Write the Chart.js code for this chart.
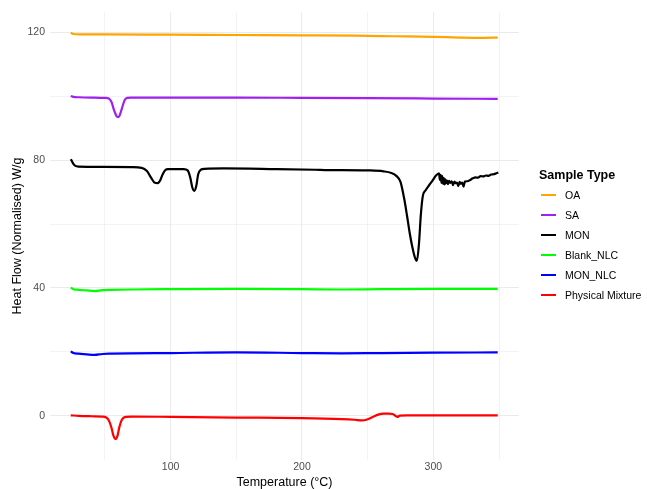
<!DOCTYPE html>
<html>
<head>
<meta charset="utf-8">
<script src="https://cdn.jsdelivr.net/npm/chart.js@4/dist/chart.umd.min.js"></script>
<style>
  body { margin: 0; background: #fff; }
  #wrap { position: relative; width: 647px; height: 489px; font-family: "Liberation Sans", Arial, sans-serif; }
  #legend { position: absolute; left: 539px; top: 166px; }
  #legend .title { font-weight: bold; font-size: 12.5px; height: 19px; line-height: 19px; }
  #legend .item { height: 20px; display: flex; align-items: center; font-size: 10.5px; }
  #legend .key { width: 15px; height: 2.2px; margin-left: 2px; margin-right: 9px; }
</style>
</head>
<body>
<div id="wrap">
  <canvas id="dsc" width="647" height="489"></canvas>
  <div id="legend"></div>
</div>
<script>
// DSC traces, temperature in °C, heat flow normalised and offset (W/g)
const seriesNames = ['OA', 'SA', 'MON', 'Blank_NLC', 'MON_NLC', 'Physical Mixture'];
const seriesColors = ['#FFA500', '#A020F0', '#000000', '#00FF00', '#0000FF', '#FF0000'];

const tOA = [24, 26, 30, 50, 100, 150, 200, 240, 270, 300, 320, 335, 349];
const hfOA = [119.9, 119.5, 119.4, 119.4, 119.3, 119.2, 119.1, 119.0, 118.8, 118.6, 118.4, 118.3, 118.4];

const tSA = [24, 26, 30, 40, 50, 53, 55, 57, 59, 60, 61, 63, 65, 67, 70, 100, 150, 200, 250, 300, 349];
const hfSA = [100.1, 99.8, 99.7, 99.6, 99.5, 99.3, 98.2, 95.6, 93.7, 93.5, 93.8, 96.3, 98.8, 99.5, 99.6, 99.6, 99.6, 99.5, 99.4, 99.3, 99.2];

const tMON = [24, 25, 26, 27.5, 30, 50, 70, 78, 82, 85, 88, 90, 92, 94, 96, 98, 100, 110, 113, 115, 116.5, 118, 119.5, 121, 123, 126,
  140, 180, 210, 220, 230, 250, 262, 268, 272, 275, 278, 280, 282, 284, 286, 287.5, 289, 290.5, 292, 294, 297, 300, 302, 304.3,
  305, 305.6, 306.2, 306.8, 307.4, 308, 308.6, 309.2, 309.8, 310.5, 311.2, 312, 313, 314, 315, 316, 317, 318, 319, 320, 321, 322, 323, 324,
  326, 328, 330, 332, 334, 336, 338, 340, 342, 344, 346, 348, 349.5];
const hfMON = [80.3, 79.6, 78.8, 78.2, 78.0, 77.9, 77.8, 77.6, 76.6, 74.6, 72.9, 72.8, 73.6, 75.6, 76.9, 77.2, 77.2, 77.2, 76.8, 74.5, 71.5, 70.4, 71.8, 75.6, 77.0, 77.3,
  77.4, 77.2, 77.0, 76.9, 76.9, 76.8, 76.5, 76.0, 75.0, 73.2, 67.5, 62.5, 57.2, 52.8, 49.5, 48.5, 53.5, 63.0, 68.8, 70.5, 72.3, 74.0, 75.2, 75.9,
  73.8, 75.4, 72.9, 75.0, 72.6, 74.4, 72.4, 74.0, 72.8, 73.6, 72.5, 73.5, 72.9, 73.4, 72.2, 73.3, 72.8, 73.0, 71.9, 73.2, 72.6, 73.0, 71.7, 73.3,
  73.4, 73.8, 74.3, 74.6, 74.5, 75.0, 74.9, 75.2, 75.1, 75.5, 75.6, 75.9, 76.1];

const tNLC = [24, 26, 30, 36, 42, 48, 55, 70, 100, 150, 200, 230, 260, 300, 349];
const hfBlank = [40.1, 39.6, 39.4, 39.2, 39.0, 39.3, 39.4, 39.5, 39.6, 39.7, 39.6, 39.5, 39.6, 39.7, 39.7];
const hfMonNlc = [20.1, 19.6, 19.4, 19.2, 19.0, 19.3, 19.4, 19.5, 19.6, 19.8, 19.6, 19.5, 19.6, 19.7, 19.8];

const tPM = [24, 30, 40, 48, 51, 53, 55, 56.5, 58, 59.5, 61, 63, 66, 70, 100, 150, 200, 230, 240, 246, 249, 252, 255, 258, 262, 266, 269, 271, 272.6, 274.5, 280, 300, 330, 349];
const hfPM = [0.1, -0.1, -0.2, -0.3, -0.6, -1.5, -3.8, -6.3, -7.3, -6.4, -3.6, -1.2, -0.4, -0.3, -0.4, -0.6, -0.8, -1.1, -1.3, -1.5, -1.3, -0.8, -0.2, 0.3, 0.6, 0.6, 0.5, 0.0, -0.4, 0.0, 0.1, 0.1, 0.1, 0.1];

const xTicks = [50, 100, 150, 200, 250, 300, 350];
const yTicks = [0, 20, 40, 60, 80, 100, 120];

const FONT = '"Liberation Sans", Arial, sans-serif';

function pts(xs, ys) {
  return xs.map((x, i) => ({ x: x, y: ys[i] }));
}

const traces = [
  pts(tOA, hfOA),
  pts(tSA, hfSA),
  pts(tMON, hfMON),
  pts(tNLC, hfBlank),
  pts(tNLC, hfMonNlc),
  pts(tPM, hfPM)
];

const datasets = traces.map((d, i) => ({
  label: seriesNames[i],
  data: d,
  borderColor: seriesColors[i],
  backgroundColor: seriesColors[i],
  borderWidth: 2.2,
  pointRadius: 0,
  showLine: true,
  fill: false,
  cubicInterpolationMode: 'monotone'
}));

new Chart(document.getElementById('dsc'), {
  type: 'scatter',
  data: { datasets: datasets },
  options: {
    responsive: false,
    animation: false,
    events: [],
    layout: { padding: { left: 0, right: 128, top: 12, bottom: 0 } },
    plugins: { legend: { display: false }, tooltip: { enabled: false } },
    scales: {
      x: {
        type: 'linear',
        min: 8.2,
        max: 365.2,
        afterBuildTicks: s => { s.ticks = xTicks.map(v => ({ value: v })); },
        afterFit: s => { s.height = 29; },
        border: { display: false },
        grid: {
          color: '#EBEBEB',
          lineWidth: c => (c.tick && c.tick.value % 100 === 0 ? 1.1 : 0.6),
          drawTicks: false
        },
        ticks: {
          padding: 1,
          color: '#4D4D4D',
          font: { family: FONT, size: 10.5 },
          maxRotation: 0,
          autoSkip: false,
          callback: v => (v % 100 === 0 ? v : '')
        },
        title: {
          display: true,
          text: 'Temperature (°C)',
          color: '#000',
          font: { family: FONT, size: 12.5, lineHeight: 1.1 },
          padding: { top: 0, bottom: 0 }
        }
      },
      y: {
        type: 'linear',
        min: -13.9,
        max: 126.4,
        afterBuildTicks: s => { s.ticks = yTicks.map(v => ({ value: v })); },
        afterFit: s => { s.width = 50; },
        border: { display: false },
        grid: {
          color: '#EBEBEB',
          lineWidth: c => (c.tick && c.tick.value % 40 === 0 ? 1.1 : 0.6),
          drawTicks: false
        },
        ticks: {
          padding: 5,
          color: '#4D4D4D',
          font: { family: FONT, size: 10.5 },
          autoSkip: false,
          callback: v => (v % 40 === 0 ? v : '')
        },
        title: {
          display: true,
          text: 'Heat Flow (Normalised) W/g',
          color: '#000',
          font: { family: FONT, size: 12.5, lineHeight: 1.2 },
          padding: { top: 10, bottom: 0 }
        }
      }
    }
  }
});

// legend, ggplot style
const legend = document.getElementById('legend');
let html = '<div class="title">Sample Type</div>';
seriesNames.forEach((n, i) => {
  html += '<div class="item"><span class="key" style="background:' + seriesColors[i] + '"></span>' + n + '</div>';
});
legend.innerHTML = html;
</script>
</body>
</html>
